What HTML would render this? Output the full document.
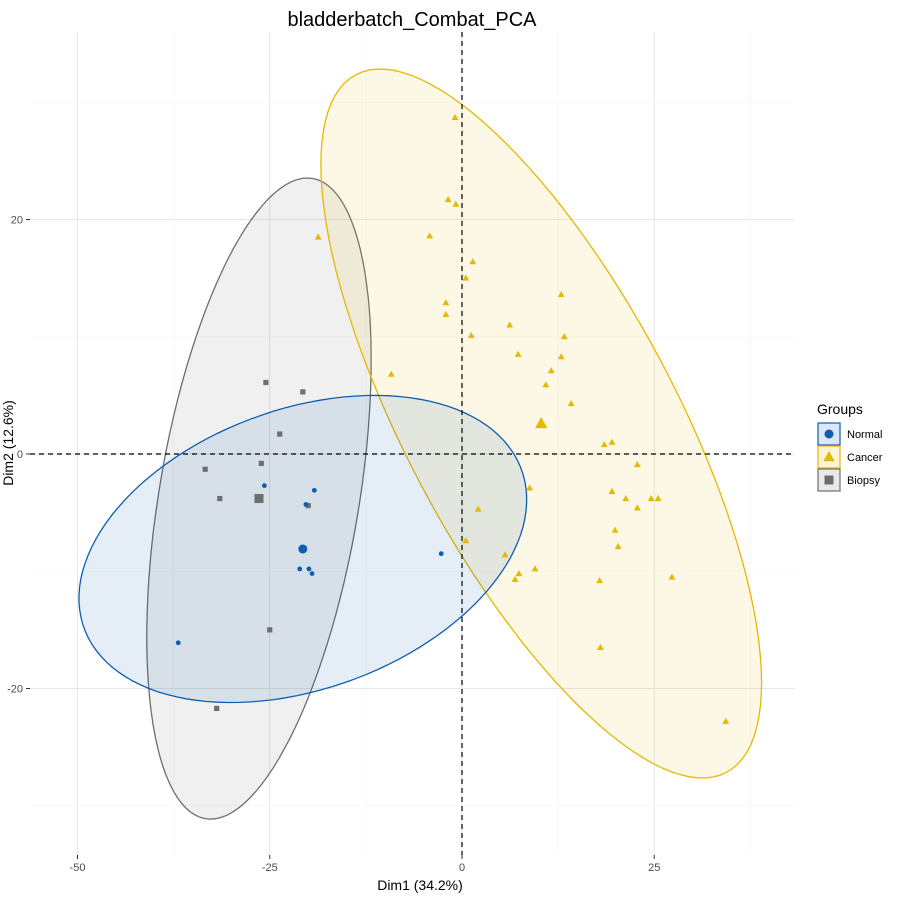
<!DOCTYPE html>
<html><head><meta charset="utf-8"><style>
body{margin:0;background:#fff;font-family:"Liberation Sans",sans-serif;}
svg text{font-family:"Liberation Sans",sans-serif;}
</style></head><body>
<svg id="chart" width="900" height="900" viewBox="0 0 900 900"></svg>
<script>
const groups=["Normal","Cancer","Biopsy"];
const colors=["#0E5DB3","#E7B800","#6E6E6E"];
const normalX=[-25.7,-19.2,-20.3,-21.1,-19.9,-19.5,-36.9,-2.7];
const normalY=[-2.7,-3.1,-4.3,-9.8,-9.8,-10.2,-16.1,-8.5];
const cancerX=[-0.9,-1.8,-0.8,-4.2,-18.7,1.4,0.5,-2.1,-2.1,1.2,6.2,7.3,12.9,13.3,12.9,11.6,10.9,14.2,-9.2,18.5,19.5,22.8,19.5,21.3,24.6,25.5,22.8,19.9,20.3,8.8,2.1,0.5,5.6,7.4,6.9,9.5,17.9,27.3,18.0,34.3];
const cancerY=[28.7,21.7,21.3,18.6,18.5,16.4,15.0,12.9,11.9,10.1,11.0,8.5,13.6,10.0,8.3,7.1,5.9,4.3,6.8,0.8,1.0,-0.9,-3.2,-3.8,-3.8,-3.8,-4.6,-6.5,-7.9,-2.9,-4.7,-7.4,-8.6,-10.2,-10.7,-9.8,-10.8,-10.5,-16.5,-22.8];
const biopsyX=[-25.5,-20.7,-23.7,-33.4,-26.1,-31.5,-20.0,-25.0,-31.9];
const biopsyY=[6.1,5.3,1.7,-1.3,-0.8,-3.8,-4.4,-15.0,-21.7];
const meanX=[-20.7,10.3,-26.4];
const meanY=[-8.1,2.6,-3.8];
const ellMajorX=[28.3,24.1,7.0];
const ellMajorY=[7.0,-29.75,27.3];
const ellMinorX=[6.83,-15.5,12.8];
const ellMinorY=[-11.07,-5.4,-1.48];
const xTicks=[-50,-25,0,25];
const yTicks=[-20,0,20];
const xMinor=[-37.5,-12.5,12.5,37.5];
const yMinor=[-30,-10,10,30];

const L=30,R=795,T=32,B=855;
const sx=v=>462+v*7.69;
const sy=v=>454-v*11.725;
const svg=document.getElementById('chart');
const NS="http://www.w3.org/2000/svg";
function mk(tag,attrs,parent){const e=document.createElementNS(NS,tag);for(const k in attrs)e.setAttribute(k,attrs[k]);(parent||svg).appendChild(e);return e;}

const grid=mk('g',{});


xMinor.forEach(v=>mk('line',{x1:sx(v),x2:sx(v),y1:T,y2:B,stroke:'#f3f3f3','stroke-width':0.6},grid));
yMinor.forEach(v=>mk('line',{x1:L,x2:R,y1:sy(v),y2:sy(v),stroke:'#f3f3f3','stroke-width':0.6},grid));
xTicks.forEach(v=>mk('line',{x1:sx(v),x2:sx(v),y1:T,y2:B,stroke:'#e6e6e6','stroke-width':1},grid));
yTicks.forEach(v=>mk('line',{x1:L,x2:R,y1:sy(v),y2:sy(v),stroke:'#e6e6e6','stroke-width':1},grid));

const drawOrder=[2,1,0];
const fills=["rgba(14,93,179,0.11)","rgba(231,184,0,0.10)","rgba(110,110,110,0.10)"];
drawOrder.forEach(g=>{
  let pts=[];
  for(let i=0;i<=120;i++){const t=i/120*2*Math.PI;
    const x=meanX[g]+Math.cos(t)*ellMajorX[g]+Math.sin(t)*ellMinorX[g];
    const y=meanY[g]+Math.cos(t)*ellMajorY[g]+Math.sin(t)*ellMinorY[g];
    pts.push(sx(x).toFixed(1)+','+sy(y).toFixed(1));}
  const p=mk('polygon',{points:pts.join(' '),fill:fills[g],stroke:colors[g],'stroke-width':1.3});
  
  
});

mk('line',{x1:L,x2:R,y1:sy(0),y2:sy(0),stroke:'#000','stroke-width':1.2,'stroke-dasharray':'5,4'});
mk('line',{x1:sx(0),x2:sx(0),y1:T,y2:B,stroke:'#000','stroke-width':1.2,'stroke-dasharray':'5,4'});

function circle(x,y,r,c,name){const e=mk('circle',{cx:x,cy:y,r:r,fill:c});}
function tri(x,y,s,c,name){const e=mk('polygon',{points:`${x},${y-s} ${x-s*0.95},${y+s*0.7} ${x+s*0.95},${y+s*0.7}`,fill:c});}
function sq(x,y,s,c,name){const e=mk('rect',{x:x-s,y:y-s,width:2*s,height:2*s,fill:c});}

biopsyX.forEach((v,i)=>sq(sx(v),sy(biopsyY[i]),2.6,colors[2],'point-biopsy'));
cancerX.forEach((v,i)=>tri(sx(v),sy(cancerY[i]),3.6,colors[1],'point-cancer'));
normalX.forEach((v,i)=>circle(sx(v),sy(normalY[i]),2.4,colors[0],'point-normal'));
circle(sx(meanX[0]),sy(meanY[0]),4.5,colors[0],'mean-normal');
tri(sx(meanX[1]),sy(meanY[1]),6.5,colors[1],'mean-cancer');
sq(sx(meanX[2]),sy(meanY[2]),4.5,colors[2],'mean-biopsy');

xTicks.forEach(v=>{mk('line',{x1:sx(v),x2:sx(v),y1:B,y2:B+4,stroke:'#333'});
  const t=mk('text',{x:sx(v),y:B+16,'text-anchor':'middle','font-size':11,fill:'#4d4d4d'});t.textContent=v;
  });
yTicks.forEach(v=>{mk('line',{x1:L-4,x2:L,y1:sy(v),y2:sy(v),stroke:'#333'});
  const t=mk('text',{x:L-7,y:sy(v)+4,'text-anchor':'end','font-size':11,fill:'#4d4d4d'});t.textContent=v;
  });

let t=mk('text',{x:412,y:26,'text-anchor':'middle','font-size':20,fill:'#000'});t.textContent='bladderbatch_Combat_PCA';

t=mk('text',{x:420,y:890,'text-anchor':'middle','font-size':14,fill:'#000'});t.textContent='Dim1 (34.2%)';

t=mk('text',{x:13,y:443,'text-anchor':'middle','font-size':14,fill:'#000',transform:'rotate(-90 13 443)'});t.textContent='Dim2 (12.6%)';


t=mk('text',{x:817,y:414,'font-size':14,fill:'#000'});t.textContent='Groups';

groups.forEach((g,i)=>{
  const y=423+i*23;
  const r=mk('rect',{x:818,y:y,width:22,height:22,fill:fills[i].replace(/0\.1\d?\)/,'0.15)'),stroke:colors[i],'stroke-width':1.2});
  
  const cx=829,cy=y+11;
  if(i===0)circle(cx,cy,4.5,colors[0],'legend-symbol-normal');
  if(i===1)tri(cx,cy,6,colors[1],'legend-symbol-cancer');
  if(i===2)sq(cx,cy,4.5,colors[2],'legend-symbol-biopsy');
  const tx=mk('text',{x:847,y:y+15,'font-size':11,fill:'#000'});tx.textContent=g;
  
});
</script>
</body></html>
